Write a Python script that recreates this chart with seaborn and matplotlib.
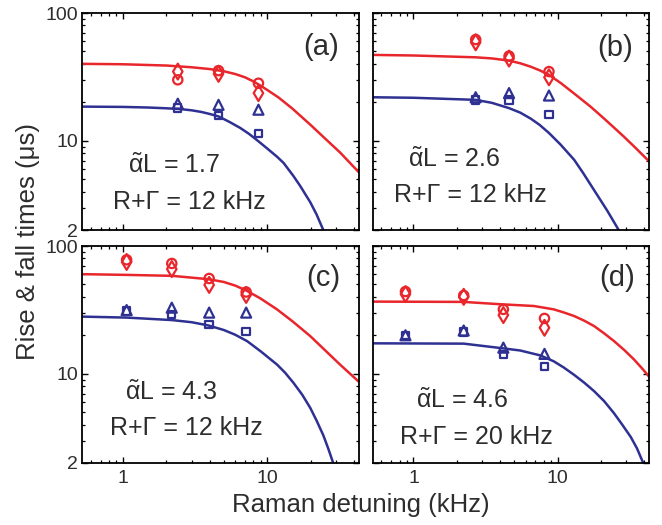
import matplotlib
matplotlib.use("Agg")
import matplotlib.pyplot as plt
import numpy as np
import pandas as pd
import seaborn as sns
from matplotlib.ticker import FixedLocator, FixedFormatter, LogLocator, NullFormatter

# ---------------- data ----------------
panel_labels = ["(a)", "(b)", "(c)", "(d)"]
alpha_L = ["1.7", "2.6", "4.3", "4.6"]
r_gamma = ["12", "12", "12", "20"]

# model curves
a_red_x = [0.52, 1, 2, 3, 4, 5, 6, 7, 8, 9, 10, 12, 15, 20, 25, 32, 43]
a_red_y = [40, 39.7, 38.8, 37.6, 36.4, 35.0, 33.3, 31.4, 29.2, 27.0, 25.0, 21.8, 17.8, 13.3, 10.5, 8.1, 5.7]
a_blue_x = [0.52, 1, 1.5, 2, 2.5, 3, 3.5, 4, 4.6, 5.5, 6.5, 7.5, 8.7, 10, 11.7, 13, 15.2, 17, 19.9, 22, 24.5]
a_blue_y = [18.5, 18.4, 18.2, 17.95, 17.7, 17.3, 16.8, 16.2, 15.5, 14.0, 12.6, 11.3, 9.9, 8.7, 7.5, 6.7, 5.3, 4.4, 3.3, 2.65, 2.0]

b_red_x = [0.52, 1, 2.7, 3.5, 4.6, 5.5, 6.5, 7.5, 8.7, 10.5, 12.9, 16.9, 21, 28.7, 35, 43]
b_red_y = [47, 46.5, 45, 44.1, 42.4, 40.4, 38, 35.6, 32.8, 28.3, 23.6, 18.5, 14.9, 10.8, 8.7, 6.9]
b_blue_x = [0.52, 1, 2.7, 3.5, 4.6, 5.5, 6.5, 7.5, 8.7, 10.5, 13, 15, 17.9, 22, 26.5]
b_blue_y = [21.9, 21.7, 20.9, 19.8, 18.0, 16.6, 14.9, 13.3, 11.5, 9.3, 7.1, 5.6, 4.1, 2.85, 2.0]

c_red_x = [0.52, 1.07, 2.19, 3.9, 5, 6, 7.26, 9, 11.7, 15, 19.9, 25, 32, 43]
c_red_y = [60.2, 59.4, 58.4, 55, 52.3, 49, 44.5, 38.8, 31.9, 25.7, 19.7, 15.4, 11.8, 8.7]
c_blue_x = [0.52, 1.07, 2.19, 3, 3.9, 5, 6, 7.26, 9, 11.7, 13.3, 15.2, 17.5, 19.9, 22, 24.5, 26.5, 28.7]
c_blue_y = [28, 27.5, 26.3, 25.3, 23.9, 22.0, 20.2, 18, 15.0, 11.8, 10.2, 8.5, 6.85, 5.4, 4.3, 3.3, 2.6, 2.0]

d_red_x = [0.52, 2.23, 4.0, 6.85, 9.4, 11, 13, 15.3, 17.9, 21, 24.6, 29, 33.9, 38.5, 43]
d_red_y = [36.7, 36.5, 35.0, 33.9, 31.9, 30.2, 28.3, 26.0, 23.6, 20.7, 18.0, 15.3, 12.9, 11.0, 9.5]
d_blue_x = [0.52, 2.23, 4.0, 5.5, 7.6, 9.4, 11, 13, 15.3, 17.9, 21, 24.6, 28, 32.1, 35.5, 39.2]
d_blue_y = [17.3, 17.2, 15.9, 15.2, 13.9, 12.5, 11.2, 9.8, 8.5, 7.3, 6.1, 4.9, 4.0, 3.2, 2.6, 2.0]

# measured points
a_det = [2.4, 4.6, 8.7]
a_circ = [30, 35.4, 28.2]
a_diam = [34.8, 33.4, 23.6]
a_tri = [19.5, 19.1, 17.5]
a_sq = [18.1, 15.8, 11.4]

b_det = [2.7, 4.6, 8.7]
b_circ = [62, 46, 34.8]
b_diam = [59, 44, 31.4]
b_tri = [21.9, 23.6, 22.6]
b_sq = [20.9, 20.9, 16.0]

c_det = [1.06, 2.18, 3.96, 7.15]
c_circ = [78, 73, 55.7, 43.6]
c_diam = [75, 66, 49.6, 41.4]
c_tri = [31.5, 32.9, 30.1, 30.1]
c_sq = [31, 29.2, 24.3, 21.3]

d_det = [0.88, 2.23, 4.2, 8.1]
d_circ = [44, 41, 31.9, 27.1]
d_diam = [42, 40, 28.8, 22.9]
d_tri = [20.0, 21.8, 16.0, 14.3]
d_sq = [20.0, 21.2, 14.1, 11.4]

x_ticks = [1, 10]
x_tick_labels = ["1", "10"]
y_ticks = [2, 10, 100]
y_tick_labels = ["2", "10", "100"]

curves = [
    (a_red_x, a_red_y, a_blue_x, a_blue_y),
    (b_red_x, b_red_y, b_blue_x, b_blue_y),
    (c_red_x, c_red_y, c_blue_x, c_blue_y),
    (d_red_x, d_red_y, d_blue_x, d_blue_y),
]
points = [
    (a_det, a_circ, a_diam, a_tri, a_sq),
    (b_det, b_circ, b_diam, b_tri, b_sq),
    (c_det, c_circ, c_diam, c_tri, c_sq),
    (d_det, d_circ, d_diam, d_tri, d_sq),
]

# ---------------- style ----------------
sns.set_style("ticks")
plt.rcParams["font.family"] = ["Liberation Sans", "DejaVu Sans"]
plt.rcParams["mathtext.fontset"] = "custom"
plt.rcParams["mathtext.rm"] = "Liberation Sans"
plt.rcParams["mathtext.it"] = "Liberation Sans"
plt.rcParams["mathtext.default"] = "regular"

RED = "#e8262b"
BLUE = "#2e3192"
TXT = "#2d2d2d"

text_pos = [
    # (alphaL x, y), (R+G x, y), (label x, y)
    ((0.167, 0.261), (0.112, 0.096), (0.928, 0.844)),
    ((0.130, 0.289), (0.076, 0.128), (0.942, 0.840)),
    ((0.156, 0.292), (0.101, 0.130), (0.935, 0.852)),
    ((0.159, 0.253), (0.101, 0.087), (0.949, 0.852)),
]

fig, axes = plt.subplots(2, 2, figsize=(6.62, 5.25), dpi=100, sharex=True, sharey=True)
fig.subplots_adjust(left=0.1239, right=0.9804, top=0.9752, bottom=0.1181,
                    wspace=0.0507, hspace=0.0737)

for i, ax in enumerate(axes.flat):
    ax.set_xscale("log")
    ax.set_yscale("log")
    rx, ry, bx, by = curves[i]
    sns.lineplot(data=pd.DataFrame({"x": rx, "y": ry}), x="x", y="y", color=RED,
                 lw=1.8, estimator=None, sort=False, ax=ax)
    sns.lineplot(data=pd.DataFrame({"x": bx, "y": by}), x="x", y="y", color=BLUE,
                 lw=1.8, estimator=None, sort=False, ax=ax)
    det, circ, diam, tri, sq = points[i]
    for vals, mk, col, size in [(circ, "o", RED, 45), (diam, "d", RED, 65),
                                (tri, "^", BLUE, 52), (sq, "s", BLUE, 28)]:
        sns.scatterplot(data=pd.DataFrame({"x": det, "y": vals}), x="x", y="y",
                        marker=mk, color="none", edgecolor=col, linewidth=1.6,
                        s=size, ax=ax, zorder=3)

    ax.set_xlim(0.52, 43)
    ax.set_ylim(2, 100)
    ax.xaxis.set_major_locator(FixedLocator(x_ticks))
    ax.xaxis.set_major_formatter(FixedFormatter(x_tick_labels))
    ax.xaxis.set_minor_locator(LogLocator(base=10, subs=np.arange(2, 10)))
    ax.xaxis.set_minor_formatter(NullFormatter())
    ax.yaxis.set_major_locator(FixedLocator(y_ticks))
    ax.yaxis.set_major_formatter(FixedFormatter(y_tick_labels))
    ax.yaxis.set_minor_locator(LogLocator(base=10, subs=np.arange(2, 10)))
    ax.yaxis.set_minor_formatter(NullFormatter())
    ax.tick_params(which="both", direction="in", top=True, right=True,
                   color="black", labelcolor=TXT, labelsize=14)
    ax.tick_params(which="major", length=4, width=1.0)
    ax.tick_params(which="minor", length=2.5, width=0.9)
    ax.tick_params(axis="x", pad=5)
    ax.tick_params(axis="y", pad=3)
    for sp in ax.spines.values():
        sp.set_linewidth(1.3)
        sp.set_color("black")
    ax.set_xlabel("")
    ax.set_ylabel("")

    (ax1, ay1), (rx1, ry1), (lx, ly) = text_pos[i]
    ax.text(ax1, ay1, r"$\tilde{\alpha}$L = " + alpha_L[i], transform=ax.transAxes,
            fontsize=18, color=TXT, ha="left", va="baseline")
    ax.text(rx1, ry1, "R+Γ = " + r_gamma[i] + " kHz", transform=ax.transAxes,
            fontsize=18, color=TXT, ha="left", va="baseline")
    ax.text(lx, ly, panel_labels[i], transform=ax.transAxes,
            fontsize=21, color=TXT, ha="right", va="center")

fig.text(0.042, 0.54, "Rise & fall times (μs)", rotation=90, ha="center",
         va="center", fontsize=18.5, color=TXT)
fig.text(0.545, 0.038, "Raman detuning (kHz)", ha="center", va="center",
         fontsize=18.5, color=TXT)

fig.savefig("out.png", dpi=100)
